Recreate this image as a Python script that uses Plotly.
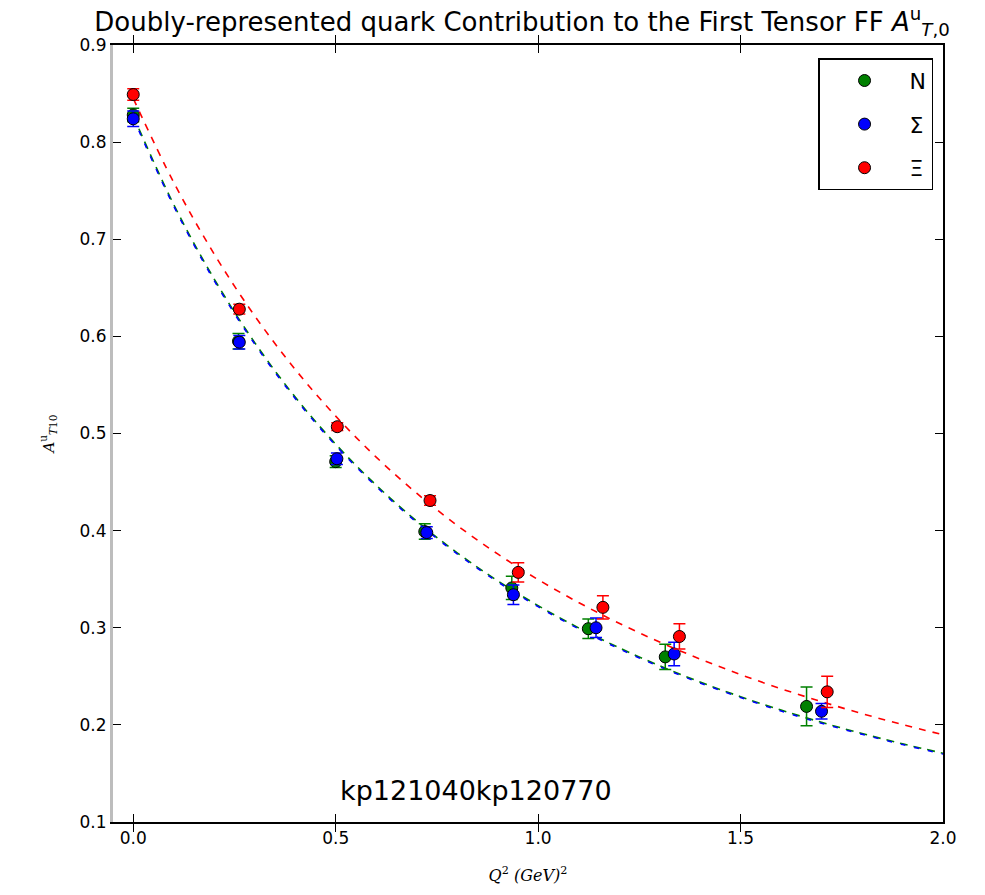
import plotly.graph_objects as go

# Lattice data points: Q^2 (GeV^2), form-factor value and statistical error
q2_N = [0.0, 0.260, 0.500, 0.720, 0.935, 1.124, 1.314, 1.663]
val_N = [0.828, 0.595, 0.471, 0.399, 0.341, 0.299, 0.270, 0.219]
err_N = [0.007, 0.008, 0.006, 0.008, 0.012, 0.010, 0.013, 0.020]

q2_S = [0.0, 0.262, 0.503, 0.725, 0.939, 1.143, 1.336, 1.700]
val_S = [0.824, 0.594, 0.474, 0.398, 0.334, 0.300, 0.273, 0.214]
err_S = [0.008, 0.007, 0.006, 0.006, 0.010, 0.010, 0.012, 0.008]

q2_X = [0.0, 0.262, 0.504, 0.733, 0.951, 1.160, 1.349, 1.714]
val_X = [0.849, 0.628, 0.507, 0.431, 0.357, 0.321, 0.291, 0.234]
err_X = [0.006, 0.005, 0.004, 0.005, 0.010, 0.012, 0.013, 0.016]

# Dipole fit curves sampled on a Q^2 grid
fit_q2 = [0.0, 0.1, 0.2, 0.3, 0.4, 0.5, 0.6, 0.7, 0.8, 0.9, 1.0,
          1.1, 1.2, 1.3, 1.4, 1.5, 1.6, 1.7, 1.8, 1.9, 2.0]
fit_N = [0.827, 0.7358, 0.6590, 0.5936, 0.5375, 0.4890, 0.4468, 0.4098,
         0.3772, 0.3484, 0.3228, 0.2999, 0.2794, 0.2609, 0.2441, 0.2290,
         0.2152, 0.2026, 0.1911, 0.1805, 0.1708]
fit_S = [0.825, 0.7341, 0.6574, 0.5921, 0.5361, 0.4877, 0.4455, 0.4086,
         0.3761, 0.3473, 0.3217, 0.2989, 0.2784, 0.2599, 0.2432, 0.2281,
         0.2143, 0.2017, 0.1903, 0.1797, 0.1700]
fit_X = [0.845, 0.7585, 0.6847, 0.6211, 0.5660, 0.5179, 0.4757, 0.4385,
         0.4054, 0.3760, 0.3496, 0.3260, 0.3046, 0.2853, 0.2678, 0.2518,
         0.2372, 0.2239, 0.2116, 0.2003, 0.1899]

GREEN = "#008000"
BLUE = "#0000ff"
RED = "#ff0000"
FONT = "DejaVu Sans"

fig = go.Figure()

# dashed fit curves
for xs, ys, col, dash in [(fit_q2, fit_N, GREEN, "8px,6px"),
                          (fit_q2, fit_S, BLUE, "5px,9px"),
                          (fit_q2, fit_X, RED, "7px,7px")]:
    fig.add_trace(go.Scatter(
        x=xs, y=ys, mode="lines", line=dict(color=col, width=1.6, dash=dash, shape="spline"),
        showlegend=False, hoverinfo="skip"))

# data points with error bars
for xs, ys, es, col, name in [
    (q2_N, val_N, err_N, GREEN, "N"),
    (q2_S, val_S, err_S, BLUE, "Σ"),
    (q2_X, val_X, err_X, RED, "Ξ"),
]:
    fig.add_trace(go.Scatter(
        x=xs, y=ys, mode="markers", name=name, legendgroup=name,
        marker=dict(color=col, size=12, symbol="circle", line=dict(color="black", width=1)),
        error_y=dict(type="data", array=es, visible=True, color=col, thickness=1.5, width=6),
    ))

# right-hand axis frame
fig.add_trace(go.Scatter(x=[None], y=[None], yaxis="y2", showlegend=False, hoverinfo="skip"))

fig.add_annotation(
    x=0.847, y=0.132, xref="x", yref="y", text="kp121040kp120770",
    showarrow=False, font=dict(family=FONT, size=27, color="black"))

fig.update_layout(
    width=985, height=895,
    margin=dict(l=113, r=42, t=45, b=73),
    paper_bgcolor="white", plot_bgcolor="white",
    font=dict(family=FONT, color="black"),
    title=dict(
        text="Doubly-represented quark Contribution to the First Tensor FF <i>A</i><sup>u</sup><sub><i>T</i>,0</sub>",
        x=0.53, xanchor="center", y=0.976, yanchor="middle",
        font=dict(family=FONT, size=26, color="black")),
    xaxis=dict(
        range=[-0.05, 2.0], tickvals=[0.0, 0.5, 1.0, 1.5, 2.0],
        ticktext=["0.0", "0.5", "1.0", "1.5", "2.0"],
        ticks="inside", ticklen=8, tickcolor="black", mirror="allticks",
        showline=True, linecolor="black", linewidth=2, showgrid=False, zeroline=False,
        tickfont=dict(family=FONT, size=17), automargin=False,
        title=dict(text="<i>Q</i><sup>2</sup> <i>(GeV)</i><sup>2</sup>",
                   font=dict(family="DejaVu Serif", size=16), standoff=22),
    ),
    yaxis=dict(
        range=[0.1, 0.9], tickvals=[0.1, 0.2, 0.3, 0.4, 0.5, 0.6, 0.7, 0.8, 0.9],
        ticktext=["0.1", "0.2", "0.3", "0.4", "0.5", "0.6", "0.7", "0.8", "0.9"],
        ticks="inside", ticklen=8, tickcolor="black",
        showline=True, linecolor="#bdbdbd", linewidth=3, showgrid=False, zeroline=False,
        tickfont=dict(family=FONT, size=17), automargin=False,
        title=dict(text="<i>A</i><sup>u</sup><sub><i>T</i>10</sub>",
                   font=dict(family="DejaVu Serif", size=15), standoff=22),
    ),
    yaxis2=dict(
        overlaying="y", side="right", matches="y", range=[0.1, 0.9],
        tickvals=[0.1, 0.2, 0.3, 0.4, 0.5, 0.6, 0.7, 0.8, 0.9],
        ticks="inside", ticklen=8, tickcolor="black", showticklabels=False,
        showline=True, linecolor="black", linewidth=2, showgrid=False, zeroline=False,
        automargin=False,
    ),
    legend=dict(
        x=0.988, y=0.983, xanchor="right", yanchor="top",
        bgcolor="white", bordercolor="black", borderwidth=1.5,
        font=dict(family=FONT, size=22), itemwidth=80,
        traceorder="grouped", tracegroupgap=12,
    ),
    showlegend=True,
)

fig.write_html("out.html")
